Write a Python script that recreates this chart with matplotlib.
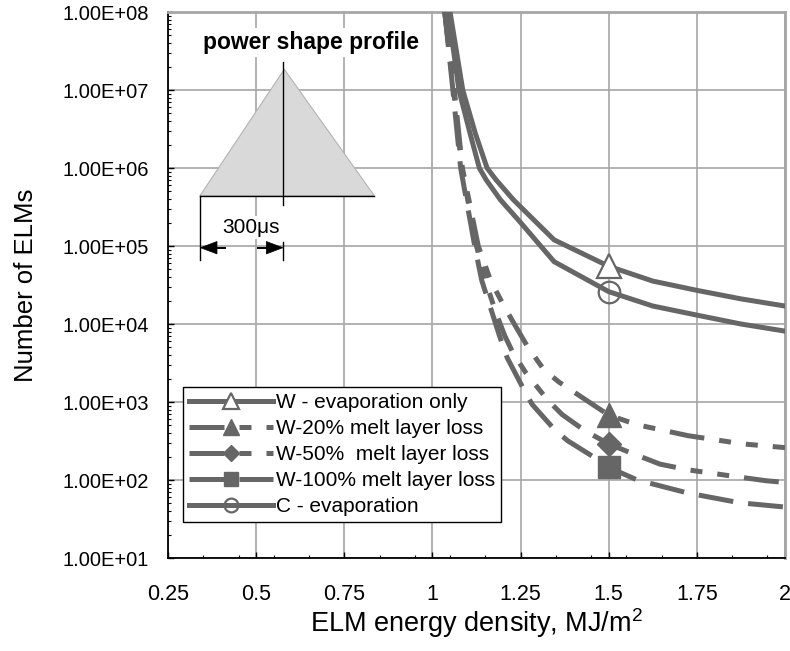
import numpy as np
import matplotlib
matplotlib.use("Agg")
import matplotlib.pyplot as plt
from matplotlib.transforms import Affine2D
from matplotlib.patches import Polygon
from matplotlib.lines import Line2D
from matplotlib.ticker import FixedLocator, FuncFormatter, LogLocator, NullFormatter

plt.rcParams['font.family'] = ['Liberation Sans', 'DejaVu Sans']
plt.rcParams['mathtext.fontset'] = 'custom'
plt.rcParams['mathtext.rm'] = 'Liberation Sans'
plt.rcParams['mathtext.it'] = 'Liberation Sans:italic'

# ---------------- data ----------------
x_w_evap = [1.05, 1.086, 1.122, 1.155, 1.18, 1.23, 1.345, 1.5, 1.625, 1.75, 1.875, 2.0]
y_w_evap = [1e8, 1.0e7, 2.75e6, 1.0e6, 7.1e5, 3.9e5, 1.2e5, 5.5e4, 3.55e4, 2.7e4, 2.1e4, 1.7e4]

x_c_evap = [1.045, 1.075, 1.107, 1.133, 1.152, 1.193, 1.25, 1.345, 1.5, 1.625, 1.75, 1.875, 2.0]
y_c_evap = [1e8, 1.0e7, 2.75e6, 1.0e6, 7.1e5, 3.9e5, 2.0e5, 6.3e4, 2.6e4, 1.7e4, 1.3e4, 1.0e4, 8.1e3]

x_w20 = [1.035, 1.062, 1.085, 1.13, 1.165, 1.2, 1.235, 1.269, 1.316, 1.359, 1.444, 1.5,
         1.581, 1.648, 1.725, 1.881, 2.0]
y_w20 = [1e8, 1e7, 1e6, 1e5, 3.6e4, 1.8e4, 9.5e3, 5.2e3, 2.6e3, 1.8e3, 1.0e3, 6.8e2,
         5.1e2, 4.4e2, 3.7e2, 2.9e2, 2.6e2]

x_w50 = [1.035, 1.06, 1.083, 1.125, 1.15, 1.18, 1.205, 1.227, 1.264, 1.326, 1.368, 1.432, 1.5,
         1.555, 1.645, 1.725, 1.833, 1.945, 2.0]
y_w50 = [1e8, 1e7, 1e6, 1e5, 3.6e4, 1.4e4, 7.1e3, 4.4e3, 2.4e3, 1.07e3, 6.9e2, 4.3e2, 2.9e2,
         2.3e2, 1.6e2, 1.35e2, 1.15e2, 98, 93]

x_w100 = [1.035, 1.058, 1.08, 1.12, 1.14, 1.165, 1.19, 1.212, 1.259, 1.283, 1.345, 1.383,
          1.459, 1.5, 1.581, 1.725, 1.872, 2.0]
y_w100 = [1e8, 1e7, 1e6, 1e5, 3.6e4, 1.6e4, 7.1e3, 3.7e3, 1.45e3, 9.3e2, 4.5e2, 3.2e2,
          1.95e2, 1.45e2, 1.0e2, 68, 51, 45]

series_labels = ["W - evaporation only", "W-20% melt layer loss", "W-50%  melt layer loss",
                 "W-100% melt layer loss", "C - evaporation"]
x_ticks = [0.25, 0.5, 0.75, 1.0, 1.25, 1.5, 1.75, 2.0]
y_ticks = [1e1, 1e2, 1e3, 1e4, 1e5, 1e6, 1e7, 1e8]
marker_x = 1.5

# ---------------- figure ----------------
W, H = 790, 651
fig = plt.figure(figsize=(W / 100, H / 100), dpi=100)
ax = fig.add_axes([168 / W, 1 - 558 / H, (785 - 168) / W, (558 - 12) / H])

col = '#666666'
lw = 3.6
dash_a = (0, (7, 3, 2.4, 3, 2.4, 3))
dash_c = (0, (7, 3))

def idx(xs):
    return [xs.index(marker_x)]

ax.plot(x_w_evap, y_w_evap, color=col, lw=lw, marker='^', ms=17, mfc='white', mec=col,
        mew=1.6, markevery=idx(x_w_evap), label=series_labels[0], zorder=4)
ax.plot(x_w20, y_w20, color=col, lw=lw, ls=dash_a, marker='^', ms=17.5, mfc=col, mec=col,
        markevery=idx(x_w20), label=series_labels[1], zorder=4)
ax.plot(x_w50, y_w50, color=col, lw=lw, ls=dash_a, marker='D', ms=12.5, mfc=col, mec=col,
        markevery=idx(x_w50), label=series_labels[2], zorder=4)
ax.plot(x_w100, y_w100, color=col, lw=lw, ls=dash_c, marker='s', ms=16.5, mfc=col, mec=col,
        markevery=idx(x_w100), label=series_labels[3], zorder=4)
ax.plot(x_c_evap, y_c_evap, color=col, lw=lw, marker='o', ms=15.5, mfc='none', mec=col,
        mew=1.6, markevery=idx(x_c_evap), label=series_labels[4], zorder=4)

ax.set_yscale('log')
ax.set_xlim(0.25, 2.0)
ax.set_ylim(1e1, 1e8)

ax.xaxis.set_major_locator(FixedLocator(x_ticks))
ax.xaxis.set_major_formatter(FuncFormatter(lambda v, p: f"{v:g}"))
ax.xaxis.set_minor_locator(FixedLocator(list(np.arange(0.35, 2.0, 0.1))))
ax.yaxis.set_major_locator(FixedLocator(y_ticks))
ax.yaxis.set_major_formatter(FuncFormatter(lambda v, p: f"{v:.2E}"))
ax.yaxis.set_minor_locator(LogLocator(base=10, subs=np.arange(2, 10), numticks=20))
ax.yaxis.set_minor_formatter(NullFormatter())

ax.grid(True, which='major', color='#a6a6a6', lw=1.2, zorder=0)
ax.set_axisbelow(True)
ax.tick_params(axis='both', which='major', direction='in', length=4, width=1, color='black')
ax.tick_params(axis='both', which='minor', direction='in', length=2.2, width=0.8, color='black')
ax.tick_params(axis='y', which='major', labelsize=14.5, pad=13.5)
ax.tick_params(axis='x', which='major', labelsize=15.5, pad=19)

for s in ['top', 'right']:
    ax.spines[s].set_color('#a6a6a6')
    ax.spines[s].set_linewidth(2)
for s in ['left', 'bottom']:
    ax.spines[s].set_color('black')
    ax.spines[s].set_linewidth(1.3)

ax.set_ylabel("Number of ELMs", fontsize=18.5)
ax.yaxis.set_label_coords((38 - 168) / 617, 0.5)
ax.set_xlabel("ELM energy density, MJ/m$^{2}$", fontsize=19.5, va='top')
ax.xaxis.set_label_coords(0.5, (558 - 606) / 546)

leg = ax.legend(loc='upper left', bbox_to_anchor=(183 / W, 1 - 387 / H),
                bbox_transform=fig.transFigure, fontsize=15, frameon=True, fancybox=False,
                framealpha=1, edgecolor='black', handlelength=4.05, handletextpad=0.1,
                borderpad=0.29, labelspacing=0.34, borderaxespad=0, markerscale=0.64,
                numpoints=1)
leg.get_frame().set_linewidth(1.0)
leg.set_zorder(6)

# ---------------- inset: power shape profile ----------------
px = Affine2D().scale(1 / W, -1 / H).translate(0, 1) + fig.transFigure

tri = Polygon([(200, 195.7), (284.3, 69.3), (374.3, 195.7)], closed=True,
              facecolor='#d9d9d9', edgecolor='#b3b3b3', lw=0.8, transform=px, zorder=3)
tri.set_clip_on(False)
ax.add_patch(tri)

def seg(x0, y0, x1, y1, w=1.0):
    ln = Line2D([x0, x1], [y0, y1], color='black', lw=w, transform=px, zorder=3.5)
    ln.set_clip_on(False)
    ax.add_line(ln)

seg(283.3, 61.7, 283.3, 205)
seg(200, 195.7, 374.3, 195.7)
seg(200, 195.7, 200, 260)
seg(283.3, 241.7, 283.3, 260)
seg(216, 247.7, 225, 247.7, 1.4)
seg(258.3, 247.7, 267, 247.7, 1.4)
for pts in ([(200.5, 247.7), (217, 241.5), (217, 253.9)],
            [(282.8, 247.7), (266.3, 241.5), (266.3, 253.9)]):
    hd = Polygon(pts, closed=True, facecolor='black', edgecolor='black', lw=0.5,
                 transform=px, zorder=3.5)
    hd.set_clip_on(False)
    ax.add_patch(hd)

ax.text(311, 49, "power shape profile", transform=px, fontsize=16.5, fontweight='bold',
        ha='center', va='baseline', zorder=3.6,
        bbox=dict(facecolor='white', edgecolor='none', pad=2))
ax.text(251, 233, "300\u03bcs", transform=px, fontsize=15, ha='center', va='baseline',
        zorder=3.6, bbox=dict(facecolor='white', edgecolor='none', pad=1.5))

fig.savefig("out.png", dpi=100)
